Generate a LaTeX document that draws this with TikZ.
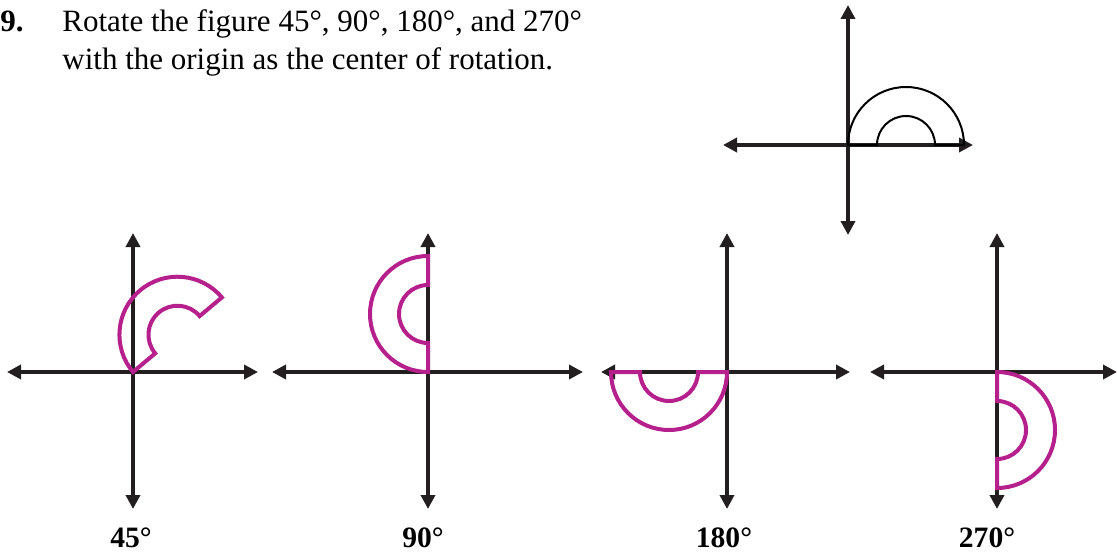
\documentclass[tikz,border=0pt]{standalone}
\usepackage{fontspec}
\setmainfont{Liberation Serif}
\usetikzlibrary{arrows.meta}
\definecolor{axisink}{RGB}{35,31,32}
\definecolor{ringmag}{RGB}{182,32,140}

\begin{document}
\begin{tikzpicture}[x=0.5pt, y=0.5pt, >={Triangle[length=7pt, width=7pt]},
        axis/.style={<->, line width=1.8pt, axisink},
        ringline/.style={line width=2pt, ringmag},
        txt/.style={anchor=base west, inner sep=0pt, font=\fontsize{15.5}{19}\selectfont},
        deg/.style={anchor=base, inner sep=0pt, font=\fontsize{14.8}{17}\selectfont\bfseries},
        ring/.pic={\draw[pic actions] (0,0) arc[start angle=180, end angle=0, radius=58]
            -- (87,0) arc[start angle=0, end angle=180, radius=29] -- cycle;}]
    \useasboundingbox (0,0) rectangle (1117,-556);
    \node[txt, font=\fontsize{15.5}{19}\selectfont\bfseries] (num) at (0,-32) {9.};
    \node[txt] (task1) at (62,-32) {Rotate the figure 45°, 90°, 180°, and 270°};
    \node[txt] (task2) at (62,-70) {with the origin as the center of rotation.};
    \foreach \n/\ox/\oy/\lt/\rt/\up/\dn in {%
        top/848/-145/125/125/140/90, a/133/-372/126/125/139/137,
        b/428/-372/156/155/139/137, c/727/-372/126/123/139/137,
        d/997/-372/127/120/139/137}
    {
        \coordinate (o\n) at (\ox,\oy);
        \draw[axis] ({\ox-\lt},\oy) -- ({\ox+\rt},\oy);
        \draw[axis] (\ox,{\oy+\up}) -- (\ox,{\oy-\dn});
    }
    \fill[axisink] (otop) circle (3);
    \pic[draw, line width=1pt, black] at (otop) {ring};
    \foreach \n/\rot/\lx/\txt in {a/40/131/45°, b/90/423/90°, c/180/724/180°, d/270/987/270°}
    {
        \pic[ringline, rotate=\rot] at (o\n) {ring};
        \node[deg] (lbl\n) at (\lx,-547) {\txt};
    }
\end{tikzpicture}
\end{document}
